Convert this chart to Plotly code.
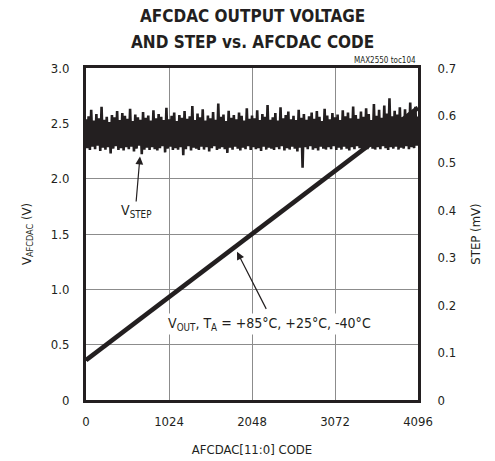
import plotly.graph_objects as go

# ---- data ----
vout_codes = [0, 4096]
vout_volts = [0.36, 2.64]

step_mv = [
    0.592, 0.531, 0.598, 0.527, 0.612, 0.534, 0.589, 0.529, 0.603, 0.536, 0.594, 0.525, 0.618, 0.532, 0.591, 0.528,
    0.597, 0.533, 0.586, 0.520, 0.601, 0.530, 0.596, 0.535, 0.609, 0.527, 0.590, 0.531, 0.605, 0.526, 0.599, 0.533,
    0.593, 0.529, 0.614, 0.534, 0.588, 0.524, 0.602, 0.530, 0.596, 0.536, 0.591, 0.518, 0.607, 0.528, 0.595, 0.532,
    0.600, 0.527, 0.589, 0.533, 0.611, 0.529, 0.594, 0.526, 0.603, 0.531, 0.597, 0.535, 0.590, 0.522, 0.616, 0.530,
    0.592, 0.534, 0.599, 0.527, 0.606, 0.531, 0.588, 0.528, 0.601, 0.533, 0.595, 0.516, 0.609, 0.529, 0.593, 0.535,
    0.598, 0.526, 0.620, 0.532, 0.590, 0.530, 0.604, 0.527, 0.596, 0.534, 0.613, 0.528, 0.589, 0.533, 0.600, 0.524,
    0.594, 0.531, 0.607, 0.535, 0.591, 0.527, 0.625, 0.530, 0.597, 0.533, 0.602, 0.529, 0.588, 0.521, 0.610, 0.532,
    0.595, 0.528, 0.601, 0.534, 0.592, 0.530, 0.606, 0.526, 0.599, 0.532, 0.589, 0.529, 0.615, 0.535, 0.593, 0.527,
    0.600, 0.533, 0.594, 0.529, 0.611, 0.531, 0.590, 0.525, 0.603, 0.534, 0.597, 0.528, 0.622, 0.532, 0.591, 0.530,
    0.596, 0.527, 0.605, 0.533, 0.589, 0.529, 0.617, 0.535, 0.594, 0.526, 0.601, 0.531, 0.608, 0.528, 0.592, 0.534,
    0.599, 0.530, 0.590, 0.524, 0.612, 0.532, 0.595, 0.490, 0.603, 0.533, 0.591, 0.529, 0.598, 0.535, 0.606, 0.528,
    0.593, 0.531, 0.609, 0.526, 0.597, 0.534, 0.588, 0.530, 0.614, 0.528, 0.600, 0.533, 0.592, 0.529, 0.605, 0.535,
    0.596, 0.527, 0.602, 0.532, 0.590, 0.528, 0.611, 0.534, 0.598, 0.530, 0.606, 0.526, 0.594, 0.533, 0.619, 0.529,
    0.601, 0.535, 0.593, 0.531, 0.608, 0.527, 0.597, 0.532, 0.615, 0.529, 0.603, 0.534, 0.590, 0.530, 0.624, 0.528,
    0.599, 0.533, 0.612, 0.529, 0.595, 0.535, 0.621, 0.531, 0.604, 0.527, 0.636, 0.533, 0.598, 0.530, 0.610, 0.534,
    0.602, 0.528, 0.617, 0.532, 0.596, 0.530, 0.613, 0.535, 0.600, 0.529, 0.627, 0.533, 0.605, 0.531, 0.618, 0.536,
    0.598,
]
step_codes = [16 * i for i in range(len(step_mv))]

x_ticks = [0, 1024, 2048, 3072, 4096]
y_left_ticks = [0, 0.5, 1.0, 1.5, 2.0, 2.5, 3.0]
y_left_text = ["0", "0.5", "1.0", "1.5", "2.0", "2.5", "3.0"]
y_right_ticks = [0, 0.1, 0.2, 0.3, 0.4, 0.5, 0.6, 0.7]
y_right_text = ["0", "0.1", "0.2", "0.3", "0.4", "0.5", "0.6", "0.7"]

FONT = "DejaVu Sans Condensed, Liberation Sans Narrow, Arial Narrow, Liberation Sans, sans-serif"
INK = "#231f20"
GRID = "#8c8c8c"

fig = go.Figure()
fig.add_trace(go.Scatter(x=vout_codes, y=vout_volts, mode="lines",
                         line=dict(color=INK, width=4.5), showlegend=False,
                         hoverinfo="skip"))
fig.add_trace(go.Scatter(x=step_codes, y=step_mv, yaxis="y2", mode="lines",
                         line=dict(color=INK, width=2.6), showlegend=False,
                         hoverinfo="skip"))

fig.update_layout(
    width=495, height=461,
    margin=dict(l=86, r=77, t=68, b=61, autoexpand=False),
    paper_bgcolor="white", plot_bgcolor="white",
    font=dict(family=FONT, size=13, color=INK),
    xaxis=dict(range=[0, 4096], tickvals=x_ticks, ticktext=[str(v) for v in x_ticks],
               showgrid=True, gridcolor=GRID, gridwidth=1, automargin=False,
               showline=True, linecolor=INK, linewidth=3, mirror=True,
               ticks="", ticklabelstandoff=7, zeroline=False,
               title=dict(text="AFCDAC[11:0] CODE", standoff=18, font=dict(size=13))),
    yaxis=dict(range=[0, 3.0], tickvals=y_left_ticks, ticktext=y_left_text,
               showgrid=True, gridcolor=GRID, gridwidth=1, automargin=False,
               showline=True, linecolor=INK, linewidth=3,
               ticks="", ticklabelstandoff=11, zeroline=False,
               title=dict(text="V<sub>AFCDAC</sub> (V)", standoff=17, font=dict(size=13))),
    yaxis2=dict(range=[0, 0.7], tickvals=y_right_ticks, ticktext=y_right_text,
                overlaying="y", side="right", showgrid=False, automargin=False,
                showline=True, linecolor=INK, linewidth=3,
                ticks="", ticklabelstandoff=14, zeroline=False,
                title=dict(text="STEP (mV)", standoff=16, font=dict(size=13))),
)

# title as two annotation lines
fig.add_annotation(x=0.503, xref="paper", y=1.0 + (68 - 16) / 332, yref="paper",
                   yanchor="middle", text="<b>AFCDAC OUTPUT VOLTAGE</b>", showarrow=False,
                   font=dict(size=17, color=INK))
fig.add_annotation(x=0.503, xref="paper", y=1.0 + (68 - 42) / 332, yref="paper",
                   yanchor="middle", text="<b>AND STEP vs. AFCDAC CODE</b>", showarrow=False,
                   font=dict(size=17, color=INK))

fig.add_annotation(x=1, xref="paper", y=1.004, yref="paper", xanchor="right", yanchor="bottom",
                   text="MAX2550 toc104", showarrow=False, font=dict(size=8, color=INK))

# V_STEP annotation
fig.add_annotation(x=666, y=2.20, xref="x", yref="y", ax=617, ay=1.78, axref="x", ayref="y",
                   text="", showarrow=True, arrowhead=2, arrowsize=1.3, arrowwidth=1.2,
                   arrowcolor=INK)
fig.add_annotation(x=620, y=1.71, xref="x", yref="y", text="V<sub>STEP</sub>",
                   showarrow=False, font=dict(size=14))

# V_OUT annotation
fig.add_annotation(x=1863, y=1.34, xref="x", yref="y", ax=2233, ay=0.81, axref="x", ayref="y",
                   text="", showarrow=True, arrowhead=2, arrowsize=1.3, arrowwidth=1.2,
                   arrowcolor=INK)
fig.add_annotation(x=990, y=0.69, xref="x", yref="y", xanchor="left",
                   text="V<sub>OUT</sub>, T<sub>A</sub> = +85°C, +25°C, -40°C",
                   showarrow=False, font=dict(size=14), bgcolor="white")

fig.write_html("out.html", config={"displayModeBar": False},
               post_script="document.body.style.margin='0';")
